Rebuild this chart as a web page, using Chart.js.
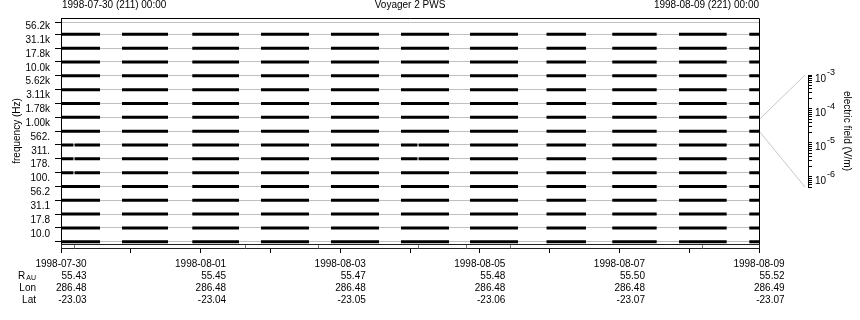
<!DOCTYPE html>
<html>
<head>
<meta charset="utf-8">
<script src="https://cdn.jsdelivr.net/npm/chart.js@4.4.0/dist/chart.umd.min.js"></script>
<style>
  html, body { margin: 0; padding: 0; background: #fff; }
  #wrap { position: relative; width: 860px; height: 320px; }
  #main { position: absolute; left: 0; top: 0; }
  #cbar { position: absolute; left: 760px; top: 0; }
</style>
</head>
<body>
<div id="wrap">
  <canvas id="main" width="860" height="320"></canvas>
  <canvas id="cbar" width="100" height="320"></canvas>
</div>
<script>
// --- DATA ---
const titleText = 'Voyager 2 PWS';
const startLabel = '1998-07-30 (211) 00:00';
const endLabel = '1998-08-09 (221) 00:00';

// channel labels, bottom (index 0) to top
const freqLabels = ['10.0', '17.8', '31.1', '56.2', '100.', '178.', '311.', '562.',
                    '1.00k', '1.78k', '3.11k', '5.62k', '10.0k', '17.8k', '31.1k', '56.2k'];
const topLine = 15.87;

// observation segments, in days after 1998-07-30 00:00
const segStart = [0.000, 0.874, 1.881, 2.865, 3.868, 4.871, 5.860, 6.956, 7.898, 8.854, 9.861];
const segEnd   = [0.559, 1.533, 2.550, 3.553, 4.556, 5.559, 6.547, 7.521, 8.534, 9.537, 10.00];

// short dropouts per channel index
const dropouts = { 5: [0.186], 6: [0.186, 5.115], 7: [0.186, 5.115] };

const dayTicks = [0, 1, 2, 3, 4, 5, 6, 7, 8, 9, 10];
const dateLabels = ['1998-07-30', '1998-08-01', '1998-08-03', '1998-08-05', '1998-08-07', '1998-08-09'];
const rauVals = ['55.43', '55.45', '55.47', '55.48', '55.50', '55.52'];
const lonVals = ['286.48', '286.48', '286.48', '286.48', '286.48', '286.49'];
const latVals = ['-23.03', '-23.04', '-23.05', '-23.06', '-23.07', '-23.07'];
const coverMarks = [0.186, 2.636, 3.682, 5.115, 5.802, 6.433, 9.183];

const cbDecades = [-6, -5, -4, -3];
const cbMin = 5e-7, cbMax = 1e-3;
const selectedChannel = 8; // 1.00k

const fontFam = '"Liberation Sans", Arial, Helvetica, sans-serif';
Chart.defaults.font.family = fontFam;
Chart.defaults.font.size = 10;
Chart.defaults.color = '#000';

// --- HELPERS ---
function channelPoints(c) {
    const pts = [];
    const cuts = dropouts[c] || [];
    segStart.forEach((s, i) => {
        const e = segEnd[i];
        let a = s;
        cuts.filter(d => d > s && d < e).forEach(d => {
            pts.push({ x: a, y: c }, { x: d - 0.008, y: c }, { x: d, y: null });
            a = d + 0.008;
        });
        pts.push({ x: a, y: c }, { x: e, y: c }, { x: e, y: null });
    });
    return pts;
}

const frameText = {
    id: 'frameText',
    afterDraw(chart) {
        const { ctx, chartArea: ca, scales: { x } } = chart;
        ctx.save();
        // top + right frame
        ctx.strokeStyle = '#000';
        ctx.lineWidth = 1;
        ctx.beginPath();
        ctx.moveTo(ca.left, ca.top + 0.5);
        ctx.lineTo(ca.right + 0.5, ca.top + 0.5);
        ctx.lineTo(ca.right + 0.5, ca.bottom);
        ctx.stroke();

        // coverage strip under the plot
        ctx.fillStyle = '#fff';
        ctx.fillRect(ca.left + 1, ca.bottom + 1, ca.right - ca.left, 4);
        ctx.strokeStyle = '#222';
        ctx.strokeRect(ca.left + 0.5, ca.bottom + 0.5, ca.right - ca.left, 4);
        ctx.strokeStyle = '#777';
        coverMarks.forEach(d => {
            const px = Math.round(x.getPixelForValue(d)) + 0.5;
            ctx.beginPath();
            ctx.moveTo(px, ca.bottom + 1);
            ctx.lineTo(px, ca.bottom + 4.5);
            ctx.stroke();
        });

        // header texts
        ctx.font = '10px ' + fontFam;
        ctx.fillStyle = '#000';
        ctx.textBaseline = 'middle';
        ctx.textAlign = 'left';
        ctx.fillText(startLabel, ca.left + 1, 5);
        ctx.textAlign = 'center';
        ctx.fillText(titleText, (ca.left + ca.right) / 2, 5);
        ctx.textAlign = 'right';
        ctx.fillText(endLabel, ca.right, 5);

        // ephemeris rows
        const rows = [rauVals, lonVals, latVals];
        const rowY = [276, 288, 300];
        dateLabels.forEach((lab, i) => {
            const px = x.getPixelForValue(i * 2);
            const right = px + ctx.measureText(lab).width / 2;
            rows.forEach((r, k) => ctx.fillText(r[i], right, rowY[k]));
        });
        ctx.fillText('Lon', 36, rowY[1]);
        ctx.fillText('Lat', 36, rowY[2]);
        ctx.font = '7px ' + fontFam;
        ctx.fillText('AU', 36, rowY[0] + 2);
        const auW = ctx.measureText('AU').width;
        ctx.font = '10px ' + fontFam;
        ctx.fillText('R', 36 - auW - 1, rowY[0]);
        ctx.restore();
    }
};

// --- MAIN CHART ---
const mainChart = new Chart(document.getElementById('main'), {
    type: 'line',
    data: {
        datasets: freqLabels.map((lab, c) => ({
            label: lab,
            data: channelPoints(c),
            borderColor: '#000',
            borderWidth: 3,
            borderCapStyle: 'butt',
            pointRadius: 0,
            spanGaps: false
        }))
    },
    options: {
        responsive: false,
        animation: false,
        devicePixelRatio: 1,
        layout: { padding: { top: 18, right: 101, left: 0, bottom: 0 } },
        plugins: { legend: { display: false }, tooltip: { enabled: false } },
        scales: {
            x: {
                type: 'linear', min: 0, max: 10,
                afterBuildTicks: s => { s.ticks = dayTicks.map(v => ({ value: v })); },
                afterFit: s => { s.height = 76; },
                grid: { drawOnChartArea: false, tickLength: 9, tickColor: '#000' },
                border: { color: '#000' },
                ticks: {
                    autoSkip: false, maxRotation: 0, padding: 5,
                    callback: v => (v % 2 === 0 ? dateLabels[v / 2] : '')
                }
            },
            y: {
                type: 'linear', min: -0.16, max: 16.18,
                afterBuildTicks: s => {
                    s.ticks = freqLabels.map((_, i) => ({ value: i })).concat([{ value: topLine }]);
                },
                afterFit: s => { s.width = 61; },
                grid: { color: '#c0c0c0', tickColor: '#000', tickLength: 6 },
                border: { color: '#000' },
                ticks: {
                    autoSkip: false, padding: 5, labelOffset: -8,
                    callback: (v, i) => freqLabels[i] || ''
                },
                title: { display: true, text: 'frequency (Hz)', padding: { top: 11, bottom: 0 } }
            }
        }
    },
    plugins: [frameText]
});

// --- COLOUR BAR ---
const cbDecor = {
    id: 'cbDecor',
    afterDraw(chart) {
        const { ctx, chartArea: ca, scales: { y } } = chart;
        const my = mainChart.scales.y;
        ctx.save();
        // connectors from the selected channel
        ctx.strokeStyle = '#c8c8c8';
        ctx.lineWidth = 1;
        ctx.beginPath();
        ctx.moveTo(0, my.getPixelForValue(selectedChannel + 1) + 1.5);
        ctx.lineTo(ca.right - 3, ca.top);
        ctx.moveTo(0, my.getPixelForValue(selectedChannel) + 1);
        ctx.lineTo(ca.right - 3, ca.bottom);
        ctx.stroke();
        // decade labels with exponent
        ctx.fillStyle = '#000';
        ctx.textBaseline = 'middle';
        ctx.textAlign = 'left';
        cbDecades.forEach(d => {
            const py = y.getPixelForValue(Math.pow(10, d));
            const lx = ca.right + 7;
            ctx.font = '10px ' + fontFam;
            ctx.fillText('10', lx, py + 4);
            const w = ctx.measureText('10').width;
            ctx.font = '9px ' + fontFam;
            ctx.fillText('-' + Math.abs(d), lx + w + 1, py - 2);
        });
        ctx.restore();
    }
};

const cbChart = new Chart(document.getElementById('cbar'), {
    type: 'line',
    data: { datasets: [] },
    options: {
        responsive: false,
        animation: false,
        devicePixelRatio: 1,
        layout: { padding: { top: 75, bottom: 133, left: 0, right: 0 } },
        plugins: { legend: { display: false }, tooltip: { enabled: false } },
        scales: {
            x: { display: false },
            y: {
                type: 'logarithmic', position: 'right', min: cbMin, max: cbMax,
                afterBuildTicks: s => {
                    const t = [];
                    for (let d = -7; d <= -3; d++) {
                        for (let m = 1; m <= 9; m++) {
                            const v = m * Math.pow(10, d);
                            if (v >= cbMin * 0.999 && v <= cbMax * 1.001) t.push({ value: v });
                        }
                    }
                    s.ticks = t;
                },
                afterFit: s => { s.width = 52; },
                grid: { drawOnChartArea: false, tickLength: 4, tickColor: '#000' },
                border: { color: '#000' },
                ticks: { display: false, autoSkip: false },
                title: { display: true, text: 'electric field (V/m)', padding: { top: 7, bottom: 0 } }
            }
        }
    },
    plugins: [cbDecor]
});
</script>
</body>
</html>
